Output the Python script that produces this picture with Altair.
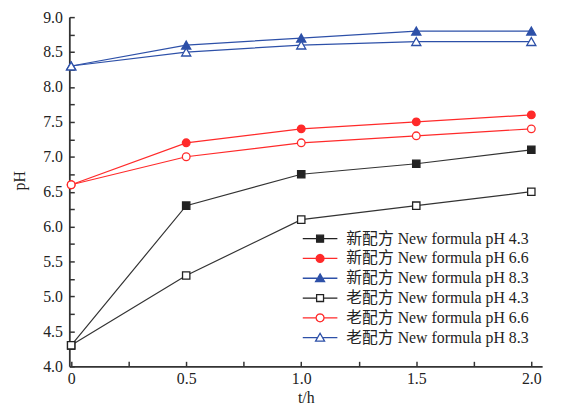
import altair as alt
import pandas as pd

# ---- data ----
times = [0.0, 0.5, 1.0, 1.5, 2.0]
new_43 = [4.3, 6.3, 6.75, 6.9, 7.1]
new_66 = [6.6, 7.2, 7.4, 7.5, 7.6]
new_83 = [8.3, 8.6, 8.7, 8.8, 8.8]
old_43 = [4.3, 5.3, 6.1, 6.3, 6.5]
old_66 = [6.6, 7.0, 7.2, 7.3, 7.4]
old_83 = [8.3, 8.5, 8.6, 8.65, 8.65]

series_names = [
    "新配方 New formula pH 4.3",
    "新配方 New formula pH 6.6",
    "新配方 New formula pH 8.3",
    "老配方 New formula pH 4.3",
    "老配方 New formula pH 6.6",
    "老配方 New formula pH 8.3",
]
series_values = [new_43, new_66, new_83, old_43, old_66, old_83]
marker_kinds = ["square", "circle", "triangle-up", "square", "circle", "triangle-up"]

x_major = [0.0, 0.5, 1.0, 1.5, 2.0]
x_minor = [0.0, 0.25, 0.5, 0.75, 1.0, 1.25, 1.5, 1.75, 2.0]
y_major = [4.0, 4.5, 5.0, 5.5, 6.0, 6.5, 7.0, 7.5, 8.0, 8.5, 9.0]
y_minor = [4.0, 4.25, 4.5, 4.75, 5.0, 5.25, 5.5, 5.75, 6.0, 6.25, 6.5, 6.75,
           7.0, 7.25, 7.5, 7.75, 8.0, 8.25, 8.5, 8.75, 9.0]

# ---- styles ----
BLACK = "#222222"
RED = "#ff2a2a"
BLUE = "#2d50a8"
series_colors = [BLACK, RED, BLUE, BLACK, RED, BLUE]
line_colors = ["#333333", RED, BLUE, "#333333", RED, BLUE]
series_fills = [BLACK, RED, BLUE, "white", "white", "white"]
marker_sizes = {"square": 55, "circle": 60, "triangle-up": 85}

SQ = "M -0.2 -0.2 L 0.2 -0.2 L 0.2 0.2 L -0.2 0.2 Z"
CI = ("M 0.23 0 L 0.2 0.115 L 0.115 0.2 L 0 0.23 L -0.115 0.2 L -0.2 0.115 "
      "L -0.23 0 L -0.2 -0.115 L -0.115 -0.2 L 0 -0.23 L 0.115 -0.2 L 0.2 -0.115 Z")
TR = "M 0 -0.25 L 0.26 0.2 L -0.26 0.2 Z"
LINE_SQ = "M -1 0 L -0.2 0 M 0.2 0 L 1 0 "
LINE_CI = "M -1 0 L -0.23 0 M 0.23 0 L 1 0 "
LINE_TR = "M -1 0 L -0.18 0 M 0.18 0 L 1 0 "
legend_paths = [
    LINE_SQ + SQ, LINE_CI + CI, LINE_TR + TR,
    LINE_SQ + SQ, LINE_CI + CI, LINE_TR + TR,
]

FONT = "Liberation Serif, Times New Roman, Noto Sans CJK SC, serif"

rows = []
for name, kind, vals in zip(series_names, marker_kinds, series_values):
    for t, v in zip(times, vals):
        rows.append({"t": t, "pH": v, "series": name, "kind": kind})
df = pd.DataFrame(rows)

xs = alt.Scale(domain=[-0.008, 2.047], nice=False, zero=False)
ys = alt.Scale(domain=[4.0, 9.0], nice=False, zero=False)
stroke_scale = alt.Scale(domain=series_names, range=series_colors)
fill_scale = alt.Scale(domain=series_names, range=series_fills)
shape_scale = alt.Scale(domain=series_names, range=legend_paths)

main_x_axis = alt.Axis(
    orient="bottom", values=x_major,
    labelExpr="datum.value == 0 ? '0' : format(datum.value, '.1f')",
    ticks=False, grid=False, domainColor="#333333", domainWidth=1.8,
    labelFont=FONT, labelFontSize=16, labelColor=BLACK, labelPadding=4,
    labelFlush=False, labelOverlap=False,
    title="t/h", titleFont=FONT, titleFontSize=16, titleFontWeight="normal",
    titleColor=BLACK, titleY=32, titleBaseline="middle",
)
main_y_axis = alt.Axis(
    orient="left", values=y_major, format=".1f",
    ticks=False, grid=False, domainColor="#333333", domainWidth=1.8,
    labelFont=FONT, labelFontSize=16, labelColor=BLACK, labelPadding=7,
    labelOverlap=False,
    title="pH", titleFont=FONT, titleFontSize=16, titleFontWeight="normal",
    titleColor=BLACK, titleX=-50, titleY=165, titleAngle=270,
    titleBaseline="middle", titleAlign="center",
)
# inward ticks: a tick-only axis pulled inside the plot by its own length
tick_x_axis = alt.Axis(
    orient="bottom", values=x_minor, labels=False, domain=False, grid=False,
    ticks=True, tickSize=5, tickWidth=1.5, tickColor="#333333", offset=-5,
    title=None,
)
tick_y_axis = alt.Axis(
    orient="left", values=y_minor, labels=False, domain=False, grid=False,
    ticks=True, tickSize=5, tickWidth=1.5, tickColor="#333333", offset=-5,
    title=None,
)

base = alt.Chart(df)

line_layers = []
for i, (name, col) in enumerate(zip(series_names, line_colors)):
    line_layers.append(
        base.transform_filter(alt.datum.series == name)
        .mark_line(strokeWidth=1.2, color=col)
        .encode(
            x=alt.X("t:Q", scale=xs, axis=main_x_axis if i == 0 else None),
            y=alt.Y("pH:Q", scale=ys, axis=main_y_axis if i == 0 else None),
        )
    )

marker_layers = []
for i, (name, kind, col, fil) in enumerate(
        zip(series_names, marker_kinds, series_colors, series_fills)):
    marker_layers.append(
        base.transform_filter(alt.datum.series == name)
        .mark_point(shape=kind, size=marker_sizes[kind], strokeWidth=1.3,
                    opacity=1, stroke=col, fill=fil, filled=True)
        .encode(
            x=alt.X("t:Q", scale=xs, axis=tick_x_axis if i == 0 else None),
            y=alt.Y("pH:Q", scale=ys, axis=tick_y_axis if i == 0 else None),
        )
    )

legend_spec = alt.Legend(
    title=None, orient="none", legendX=235, legendY=214,
    symbolSize=1225, symbolStrokeWidth=1.3, symbolOpacity=1,
    labelFont=FONT, labelFontSize=16, labelColor=BLACK, labelOffset=8,
    labelLimit=400, clipHeight=20, rowPadding=0, padding=0,
)

# legend-only layer: draws no marks, its legend is built from the scale domains
legend_layer = (
    base.transform_filter(alt.datum.t < -100)
    .mark_point(strokeWidth=1.3, opacity=1)
    .encode(
        x=alt.X("t:Q", scale=xs, axis=None),
        y=alt.Y("pH:Q", scale=ys, axis=None),
        shape=alt.Shape("series:N", scale=shape_scale, legend=legend_spec),
        stroke=alt.Stroke("series:N", scale=stroke_scale, legend=legend_spec),
        fill=alt.Fill("series:N", scale=fill_scale, legend=legend_spec),
    )
)

chart = (
    alt.layer(*line_layers, *marker_layers, legend_layer)
    .resolve_axis(x="independent", y="independent")
    .properties(
        width=478, height=353,
        padding={"left": 62, "top": 7, "right": 12, "bottom": 44},
        autosize=alt.AutoSizeParams(type="none"),
        background="white",
    )
    .configure_view(stroke=None)
)

chart.save("out.html", embed_options={"renderer": "svg", "actions": False})
